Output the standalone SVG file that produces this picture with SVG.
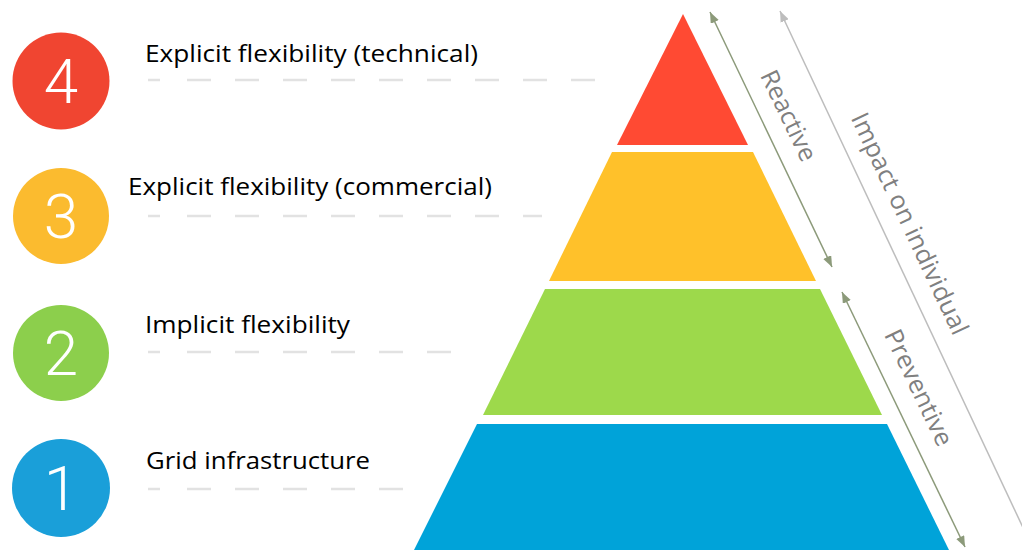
<svg xmlns="http://www.w3.org/2000/svg" width="1022" height="554" viewBox="0 0 1022 554">
  <style>
    .num { font-family: Roboto, "Open Sans", "Liberation Sans", sans-serif; font-weight: 300; font-size: 62px; fill: #ffffff; text-anchor: middle; dominant-baseline: central; }
    .lbl { font-family: "Open Sans", "Noto Sans", "Liberation Sans", sans-serif; font-size: 24px; fill: #000000; }
    .side { font-family: "Open Sans", "Noto Sans", "Liberation Sans", sans-serif; font-size: 25px; fill: #808080; text-anchor: middle; dominant-baseline: central; }
    .dash { stroke: #e2e2e2; stroke-width: 2.5; fill: none; }
    .dashrun { stroke: #e2e2e2; stroke-width: 2.5; fill: none; stroke-dasharray: 24 24; }
    .arr { stroke: #8c9a7a; stroke-width: 1.5; fill: none; marker-start: url(#headG); marker-end: url(#headG); }
    .arrGrey { stroke: #bdbdbd; stroke-width: 1.5; fill: none; marker-start: url(#headL); }
  </style>
  <defs>
    <marker id="headG" viewBox="0 0 10 8" refX="10" refY="4" markerWidth="11" markerHeight="9" markerUnits="userSpaceOnUse" orient="auto-start-reverse">
      <path d="M0,0 L10,4 L0,8 z" fill="#8c9a7a"/>
    </marker>
    <marker id="headL" viewBox="0 0 10 8" refX="10" refY="4" markerWidth="11" markerHeight="9" markerUnits="userSpaceOnUse" orient="auto-start-reverse">
      <path d="M0,0 L10,4 L0,8 z" fill="#bdbdbd"/>
    </marker>
  </defs>

  <rect width="1022" height="554" fill="#ffffff"/>

  <!-- pyramid layers -->
  <g id="layer-4"><polygon points="683,14 748,145 617,145" fill="#ff4a33"/></g>
  <g id="layer-3"><polygon points="612,152 753,152 816,281 549,281" fill="#ffc12a"/></g>
  <g id="layer-2"><polygon points="545,289 820,289 882,415 483,415" fill="#9dd94b"/></g>
  <g id="layer-1"><polygon points="477,424 887,424 949,550 414,550" fill="#00a3d9"/></g>

  <!-- numbered badges with labels and leader dashes -->
  <g id="level-4">
    <circle cx="61" cy="81" r="48.5" fill="#f04531"/>
    <text class="num" x="61" y="81">4</text>
    <text class="lbl" x="145" y="62" textLength="333" lengthAdjust="spacingAndGlyphs">Explicit flexibility (technical)</text>
    <line class="dash" x1="148" y1="80" x2="160" y2="80"/>
    <line class="dashrun" x1="187" y1="80" x2="607" y2="80"/>
  </g>
  <g id="level-3">
    <circle cx="61" cy="216" r="48" fill="#fbbb2f"/>
    <text class="num" x="61" y="216">3</text>
    <text class="lbl" x="128" y="195" textLength="364" lengthAdjust="spacingAndGlyphs">Explicit flexibility (commercial)</text>
    <line class="dash" x1="148" y1="216" x2="160" y2="216"/>
    <line class="dashrun" x1="187" y1="216" x2="542" y2="216"/>
  </g>
  <g id="level-2">
    <circle cx="61" cy="353" r="48" fill="#8ccf4c"/>
    <text class="num" x="61" y="353">2</text>
    <text class="lbl" x="145" y="333" textLength="205" lengthAdjust="spacingAndGlyphs">Implicit flexibility</text>
    <line class="dash" x1="148" y1="352" x2="160" y2="352"/>
    <line class="dashrun" x1="187" y1="352" x2="472" y2="352"/>
  </g>
  <g id="level-1">
    <circle cx="61" cy="488" r="49" fill="#1a9fd9"/>
    <text class="num" x="61" y="488">1</text>
    <text class="lbl" x="146" y="469" textLength="224" lengthAdjust="spacingAndGlyphs">Grid infrastructure</text>
    <line class="dash" x1="148" y1="489" x2="160" y2="489"/>
    <line class="dashrun" x1="187" y1="489" x2="405" y2="489"/>
  </g>

  <!-- side connectors -->
  <g id="connectors">
    <line class="arr" x1="710" y1="12" x2="832" y2="267"/>
    <line class="arr" x1="842" y1="292" x2="965" y2="547"/>
    <line class="arrGrey" x1="780" y1="11" x2="1026" y2="534"/>
  </g>

  <!-- side captions -->
  <g id="captions">
    <text class="side" transform="translate(790,115) rotate(64.4)" textLength="98" lengthAdjust="spacingAndGlyphs">Reactive</text>
    <text class="side" transform="translate(911,223) rotate(64.8)" textLength="242" lengthAdjust="spacingAndGlyphs">Impact on individual</text>
    <text class="side" transform="translate(920,387) rotate(64.4)" textLength="126" lengthAdjust="spacingAndGlyphs">Preventive</text>
  </g>
</svg>
